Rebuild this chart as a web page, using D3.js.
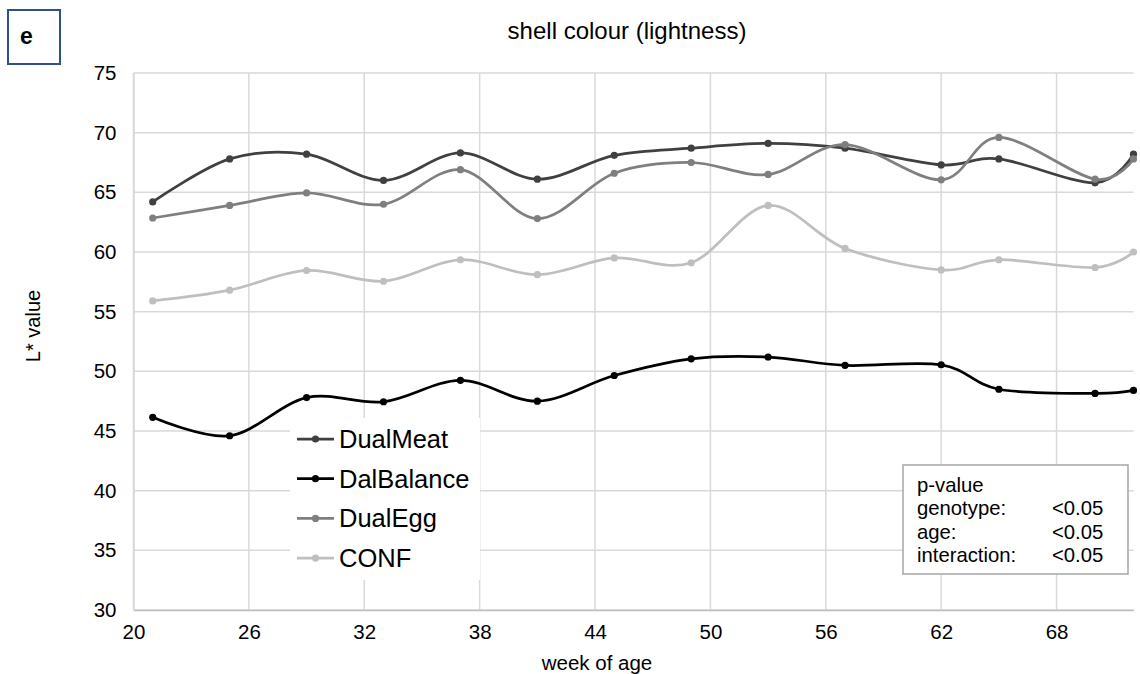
<!DOCTYPE html>
<html>
<head>
<meta charset="utf-8">
<script src="https://cdn.jsdelivr.net/npm/d3@7"></script>
<style>
body { margin: 0; background: #ffffff; }
text { font-family: "Liberation Sans", Arial, sans-serif; fill: #000; }
</style>
</head>
<body>
<div class="graph"></div>
<script>

//data

var weeks = [21, 25, 29, 33, 37, 41, 45, 49, 53, 57, 62, 65, 70, 72];
var seriesNames = ["DualMeat", "DalBalance", "DualEgg", "CONF"];
var dualMeat   = [64.2, 67.8, 68.2, 66.0, 68.3, 66.1, 68.1, 68.7, 69.1, 68.7, 67.3, 67.8, 65.8, 68.2];
var dalBalance = [46.15, 44.6, 47.8, 47.45, 49.25, 47.5, 49.65, 51.05, 51.2, 50.5, 50.55, 48.5, 48.15, 48.4];
var dualEgg    = [62.85, 63.9, 64.95, 64.0, 66.9, 62.8, 66.6, 67.5, 66.5, 69.0, 66.05, 69.6, 66.1, 67.8];
var conf       = [55.9, 56.8, 58.45, 57.55, 59.35, 58.1, 59.5, 59.1, 63.9, 60.3, 58.5, 59.35, 58.7, 60.0];
var xTicks = [20, 26, 32, 38, 44, 50, 56, 62, 68];
var yTicks = [30, 35, 40, 45, 50, 55, 60, 65, 70, 75];
var pRows = [["p-value", ""], ["genotype:", "<0.05"], ["age:", "<0.05"], ["interaction:", "<0.05"]];

var colors = ["#404040", "#000000", "#7f7f7f", "#bfbfbf"];
var allValues = [dualMeat, dalBalance, dualEgg, conf];

//prepare SVG

var svgWidth = 1140;
var svgHeight = 674;

var svg = d3.select("div.graph")
		.append("svg")
		.attr("width", svgWidth)
		.attr("height", svgHeight);

var x = d3.scaleLinear().domain([20, 72]).range([133.5, 1133.5]);
var y = d3.scaleLinear().domain([30, 75]).range([610, 73]);

// panel letter
svg.append("rect").attr("x", 8).attr("y", 10).attr("width", 52).attr("height", 54)
	.attr("fill", "none").attr("stroke", "#2f4f8f").attr("stroke-width", 2);
svg.append("text").attr("x", 20).attr("y", 43.5).style("font-size", "23px").style("font-weight", "bold").text("e");

// title + axis titles
svg.append("text").attr("x", 627).attr("y", 39).attr("text-anchor", "middle")
	.style("font-size", "24px").text("shell colour (lightness)");
svg.append("text").attr("transform", "translate(40,326) rotate(-90)").attr("text-anchor", "middle")
	.style("font-size", "20px").text("L* value");
svg.append("text").attr("x", 597).attr("y", 670).attr("text-anchor", "middle")
	.style("font-size", "20.5px").text("week of age");

// grid
var gGrid = svg.append("g");
gGrid.selectAll("line.h").data(yTicks).enter().append("line")
	.attr("x1", x(20)).attr("x2", x(72))
	.attr("y1", function(d) { return y(d); }).attr("y2", function(d) { return y(d); })
	.attr("stroke", "#d9d9d9").attr("stroke-width", 1.5);
gGrid.selectAll("line.v").data(xTicks).enter().append("line")
	.attr("y1", y(30)).attr("y2", y(75))
	.attr("x1", function(d) { return x(d); }).attr("x2", function(d) { return x(d); })
	.attr("stroke", "#d9d9d9").attr("stroke-width", 1.5);

// axes (Excel look: no tick marks)
var xAxis = d3.axisBottom(x).tickValues(xTicks).tickSize(0).tickPadding(14);
var yAxis = d3.axisLeft(y).tickValues(yTicks).tickSize(0).tickPadding(17);

var gAxisX = svg.append("g").attr("transform", "translate(0," + y(30) + ")").call(xAxis);
var gAxisY = svg.append("g").attr("transform", "translate(" + x(20) + ",0)").call(yAxis);
gAxisX.select(".domain").attr("stroke", "#bfbfbf").attr("stroke-width", 1.5);
gAxisY.select(".domain").attr("stroke", "#d9d9d9").attr("stroke-width", 1.5);
svg.selectAll(".tick text").style("font-size", "20.5px").style("font-family", "Liberation Sans, Arial, sans-serif").attr("fill", "#000");

// lines
var line = d3.line()
	.x(function(d) { return x(d[0]); })
	.y(function(d) { return y(d[1]); })
	.curve(d3.curveCardinal.tension(0));

var gLines = svg.append("g");
allValues.forEach(function(vals, i) {
	var pts = weeks.map(function(w, n) { return [w, vals[n]]; });
	gLines.append("path").datum(pts)
		.attr("d", line)
		.attr("fill", "none")
		.attr("stroke", colors[i])
		.attr("stroke-width", 2.75);
	gLines.selectAll("circle.s" + i).data(pts).enter().append("circle")
		.attr("cx", function(d) { return x(d[0]); })
		.attr("cy", function(d) { return y(d[1]); })
		.attr("r", 3.6)
		.attr("fill", colors[i]);
});

// legend
var gLegend = svg.append("g");
gLegend.append("rect").attr("x", 290).attr("y", 418).attr("width", 190).attr("height", 162).attr("fill", "#fff");
seriesNames.forEach(function(name, i) {
	var cy = 439 + i * 39.7;
	gLegend.append("line").attr("x1", 297).attr("x2", 334).attr("y1", cy).attr("y2", cy)
		.attr("stroke", colors[i]).attr("stroke-width", 2.75);
	gLegend.append("circle").attr("cx", 315.5).attr("cy", cy).attr("r", 3.6).attr("fill", colors[i]);
	gLegend.append("text").attr("x", 339).attr("y", cy + 9).style("font-size", "25.5px").text(name);
});

// p-value box
var gBox = svg.append("g");
gBox.append("rect").attr("x", 903).attr("y", 465).attr("width", 225).attr("height", 109)
	.attr("fill", "#fff").attr("stroke", "#a6a6a6").attr("stroke-width", 1.5);
pRows.forEach(function(r, i) {
	var by = 491.5 + i * 23.6;
	gBox.append("text").attr("x", 917).attr("y", by).style("font-size", "20.3px").text(r[0]);
	gBox.append("text").attr("x", 1052).attr("y", by).style("font-size", "20.3px").text(r[1]);
});

</script>
</body>
</html>
